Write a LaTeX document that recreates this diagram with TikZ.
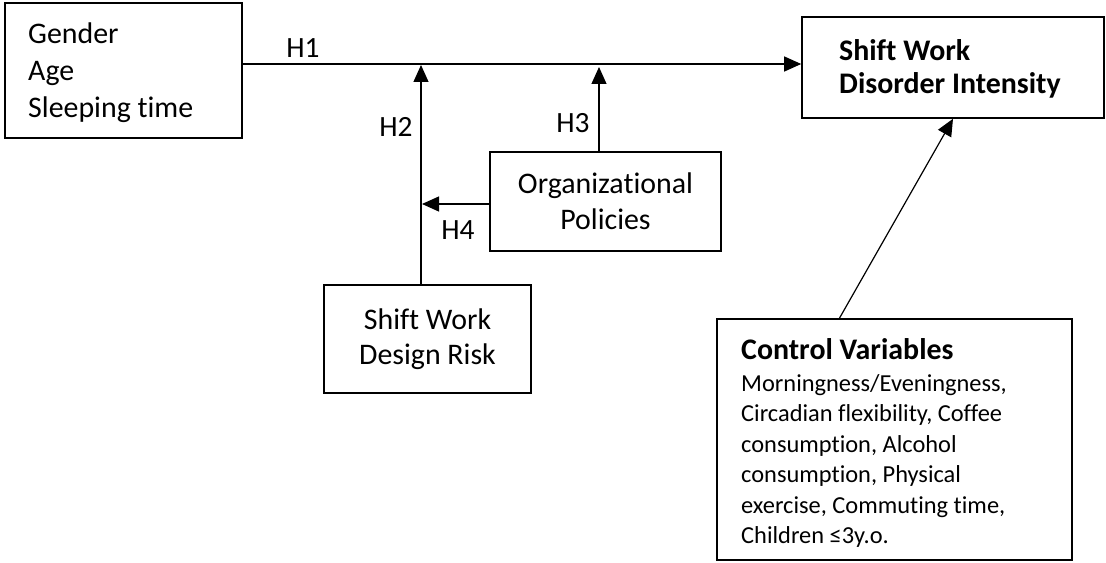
\documentclass[tikz,border=0pt]{standalone}
\usepackage{fontspec}
\setmainfont{Carlito}[Ligatures=NoCommon]
\usetikzlibrary{arrows.meta}
\begin{document}
\begin{tikzpicture}[x=1bp,y=-1bp,
  box/.style={draw, line width=1.6bp, rectangle, inner sep=0pt},
  conn/.style={line width=1.2bp},
  arr/.style={conn, -{Triangle[length=17bp,width=15bp]}},
  txt/.style={inner sep=0pt, align=left, anchor=base west},
  lab/.style={font=\fontsize{29.5}{32}\selectfont, inner sep=0pt}]
\useasboundingbox (0,0) rectangle (1106,563);
% boxes (text nodes anchored at the baseline of their last line)
\node[box, minimum width=237bp, minimum height=135bp] (b1) at (123.5,70.5) {};
\node[txt, font=\fontsize{30}{37.5}\selectfont] (b1t) at (28,118) {Gender\\Age\\Sleeping time};
\node[box, minimum width=302bp, minimum height=101bp] (b2) at (953,67.5) {};
\node[txt, font=\fontsize{30}{34}\selectfont\bfseries] (b2t) at (839,94) {Shift Work\\Disorder Intensity};
\node[box, align=center, minimum width=231bp, minimum height=99bp, font=\fontsize{30}{36}\selectfont] (org) at (605.5,201.5) {Organizational\\Policies};
\node[box, align=center, minimum width=207bp, minimum height=108bp, font=\fontsize{30}{35}\selectfont] (swdr) at (427.5,339) {Shift Work\\Design Risk};
\node[box, minimum width=355bp, minimum height=241bp] (ctrl) at (894.5,439.5) {};
\node[txt, font=\fontsize{30}{32}\selectfont\bfseries] (ctitle) at (741,359) {Control Variables};
\node[txt, font=\fontsize{24.5}{30.5}\selectfont] (ctrlt) at (741,543.5)
  {Morningness/Eveningness,\\
   Circadian flexibility, Coffee\\
   consumption, Alcohol\\
   consumption, Physical\\
   exercise, Commuting time,\\
   Children ≤3y.o.};
% helper coordinates
\coordinate (h1) at (0,64);
\coordinate (j2) at (421,65);
\coordinate (j3) at (599,67);
\coordinate (j4) at (422,204);
\coordinate (cs) at (839,319);
% connectors
\draw[arr] (b1.east |- h1) -- (b2.west |- h1);
\draw[arr] (swdr.north -| j2) -- (j2);
\draw[arr] (org.north -| j3) -- (j3);
\draw[arr] (org.west |- j4) -- (j4);
\draw[arr] (cs) -- (b2.south);
% labels
\node[lab] (l1) at (303,48) {H1};
\node[lab] (l2) at (396,127) {H2};
\node[lab] (l3) at (573,123) {H3};
\node[lab] (l4) at (458,230) {H4};
\end{tikzpicture}
\end{document}
